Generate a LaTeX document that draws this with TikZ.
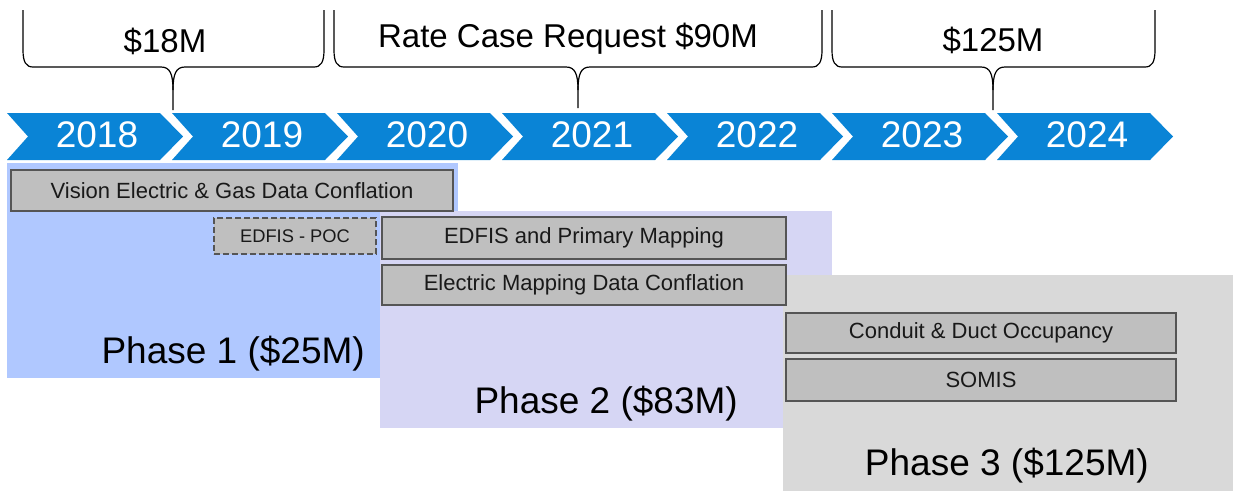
\documentclass[tikz,border=0pt]{standalone}
\usepackage{fontspec}
\setmainfont{Liberation Sans}
\definecolor{chev}{RGB}{10,132,214}
\definecolor{ph1}{RGB}{176,200,255}
\definecolor{ph2}{RGB}{214,214,244}
\definecolor{ph3}{RGB}{217,217,217}
\definecolor{boxfill}{RGB}{191,191,191}
\definecolor{boxline}{RGB}{85,85,85}
\tikzset{
  taskbox/.style={draw=boxline, line width=1.3pt, fill=boxfill, inner sep=0pt,
    font=\fontsize{22}{26}\selectfont, text=black!90},
  yearlbl/.style={text=white, font=\fontsize{37}{44}\selectfont, inner sep=0pt},
  bracelbl/.style={font=\fontsize{33}{40}\selectfont, inner sep=0pt},
  phaselbl/.style={font=\fontsize{37}{44}\selectfont, inner sep=0pt, anchor=base east},
  bracepath/.style={draw=black, line width=1.2pt},
}
\newcommand{\mybrace}[4]{% left, tip, right, tipy
  \draw[bracepath] (#1,10) -- (#1,50) .. controls (#1,62) and (#1+3,67) .. (#1+10,67)
    -- (#2-12,67) .. controls (#2-3,67) and (#2,74) .. (#2,90) -- (#2,#4);
  \draw[bracepath] (#3,10) -- (#3,50) .. controls (#3,62) and (#3-3,67) .. (#3-10,67)
    -- (#2+12,67) .. controls (#2+3,67) and (#2,74) .. (#2,90);
}
\begin{document}
\begin{tikzpicture}[x=1pt,y=-1pt]
\useasboundingbox (0,0) rectangle (1233,491);
% phase backgrounds
\fill[ph1] (7,163) rectangle (458,378);
\fill[ph2] (380,211) rectangle (832,428);
\fill[ph3] (783,275) rectangle (1233,491);
% chevrons
\foreach \i/\yr in {0/2018,1/2019,2/2020,3/2021,4/2022,5/2023,6/2024}{
  \pgfmathsetmacro{\xo}{7+165*\i}
  \fill[chev] (\xo,113) -- (\xo+153,113) -- (\xo+176,136.5) -- (\xo+153,160)
     -- (\xo,160) -- (\xo+21,136.5) -- cycle;
  \node[yearlbl] (y\yr) at (\xo+90,135) {\yr};
}
% braces
\mybrace{23}{173}{324}{110}
\mybrace{334}{578}{822}{108}
\mybrace{832}{993}{1155}{110}
\node[bracelbl] (b1) at (165,41) {\$18M};
\node[bracelbl] (b2) at (568,39) {Rate Case Request \$90M};
\node[bracelbl] (b3) at (993,40) {\$125M};
% task boxes
\node[taskbox, minimum width=442pt, minimum height=41pt] (vision) at (232,190.5) {Vision Electric \& Gas Data Conflation};
\node[taskbox, dashed, dash pattern=on 6pt off 3pt, minimum width=162pt, minimum height=36pt, font=\fontsize{18.3}{22}\selectfont] (poc) at (295,236) {EDFIS - POC};
\node[taskbox, minimum width=404pt, minimum height=42pt] (edfis) at (584,238) {EDFIS and Primary Mapping};
\node[taskbox, minimum width=404pt, minimum height=40pt] (emdc) at (584,285) {Electric Mapping Data Conflation};
\node[taskbox, minimum width=390pt, minimum height=40pt] (conduit) at (981,333) {Conduit \& Duct Occupancy};
\node[taskbox, minimum width=390pt, minimum height=42pt] (somis) at (981,380) {SOMIS};
% phase labels
\node[phaselbl] (p1) at (365,363) {Phase 1 (\$25M)};
\node[phaselbl] (p2) at (738,413) {Phase 2 (\$83M)};
\node[phaselbl] (p3) at (1149,475) {Phase 3 (\$125M)};
\end{tikzpicture}
\end{document}
